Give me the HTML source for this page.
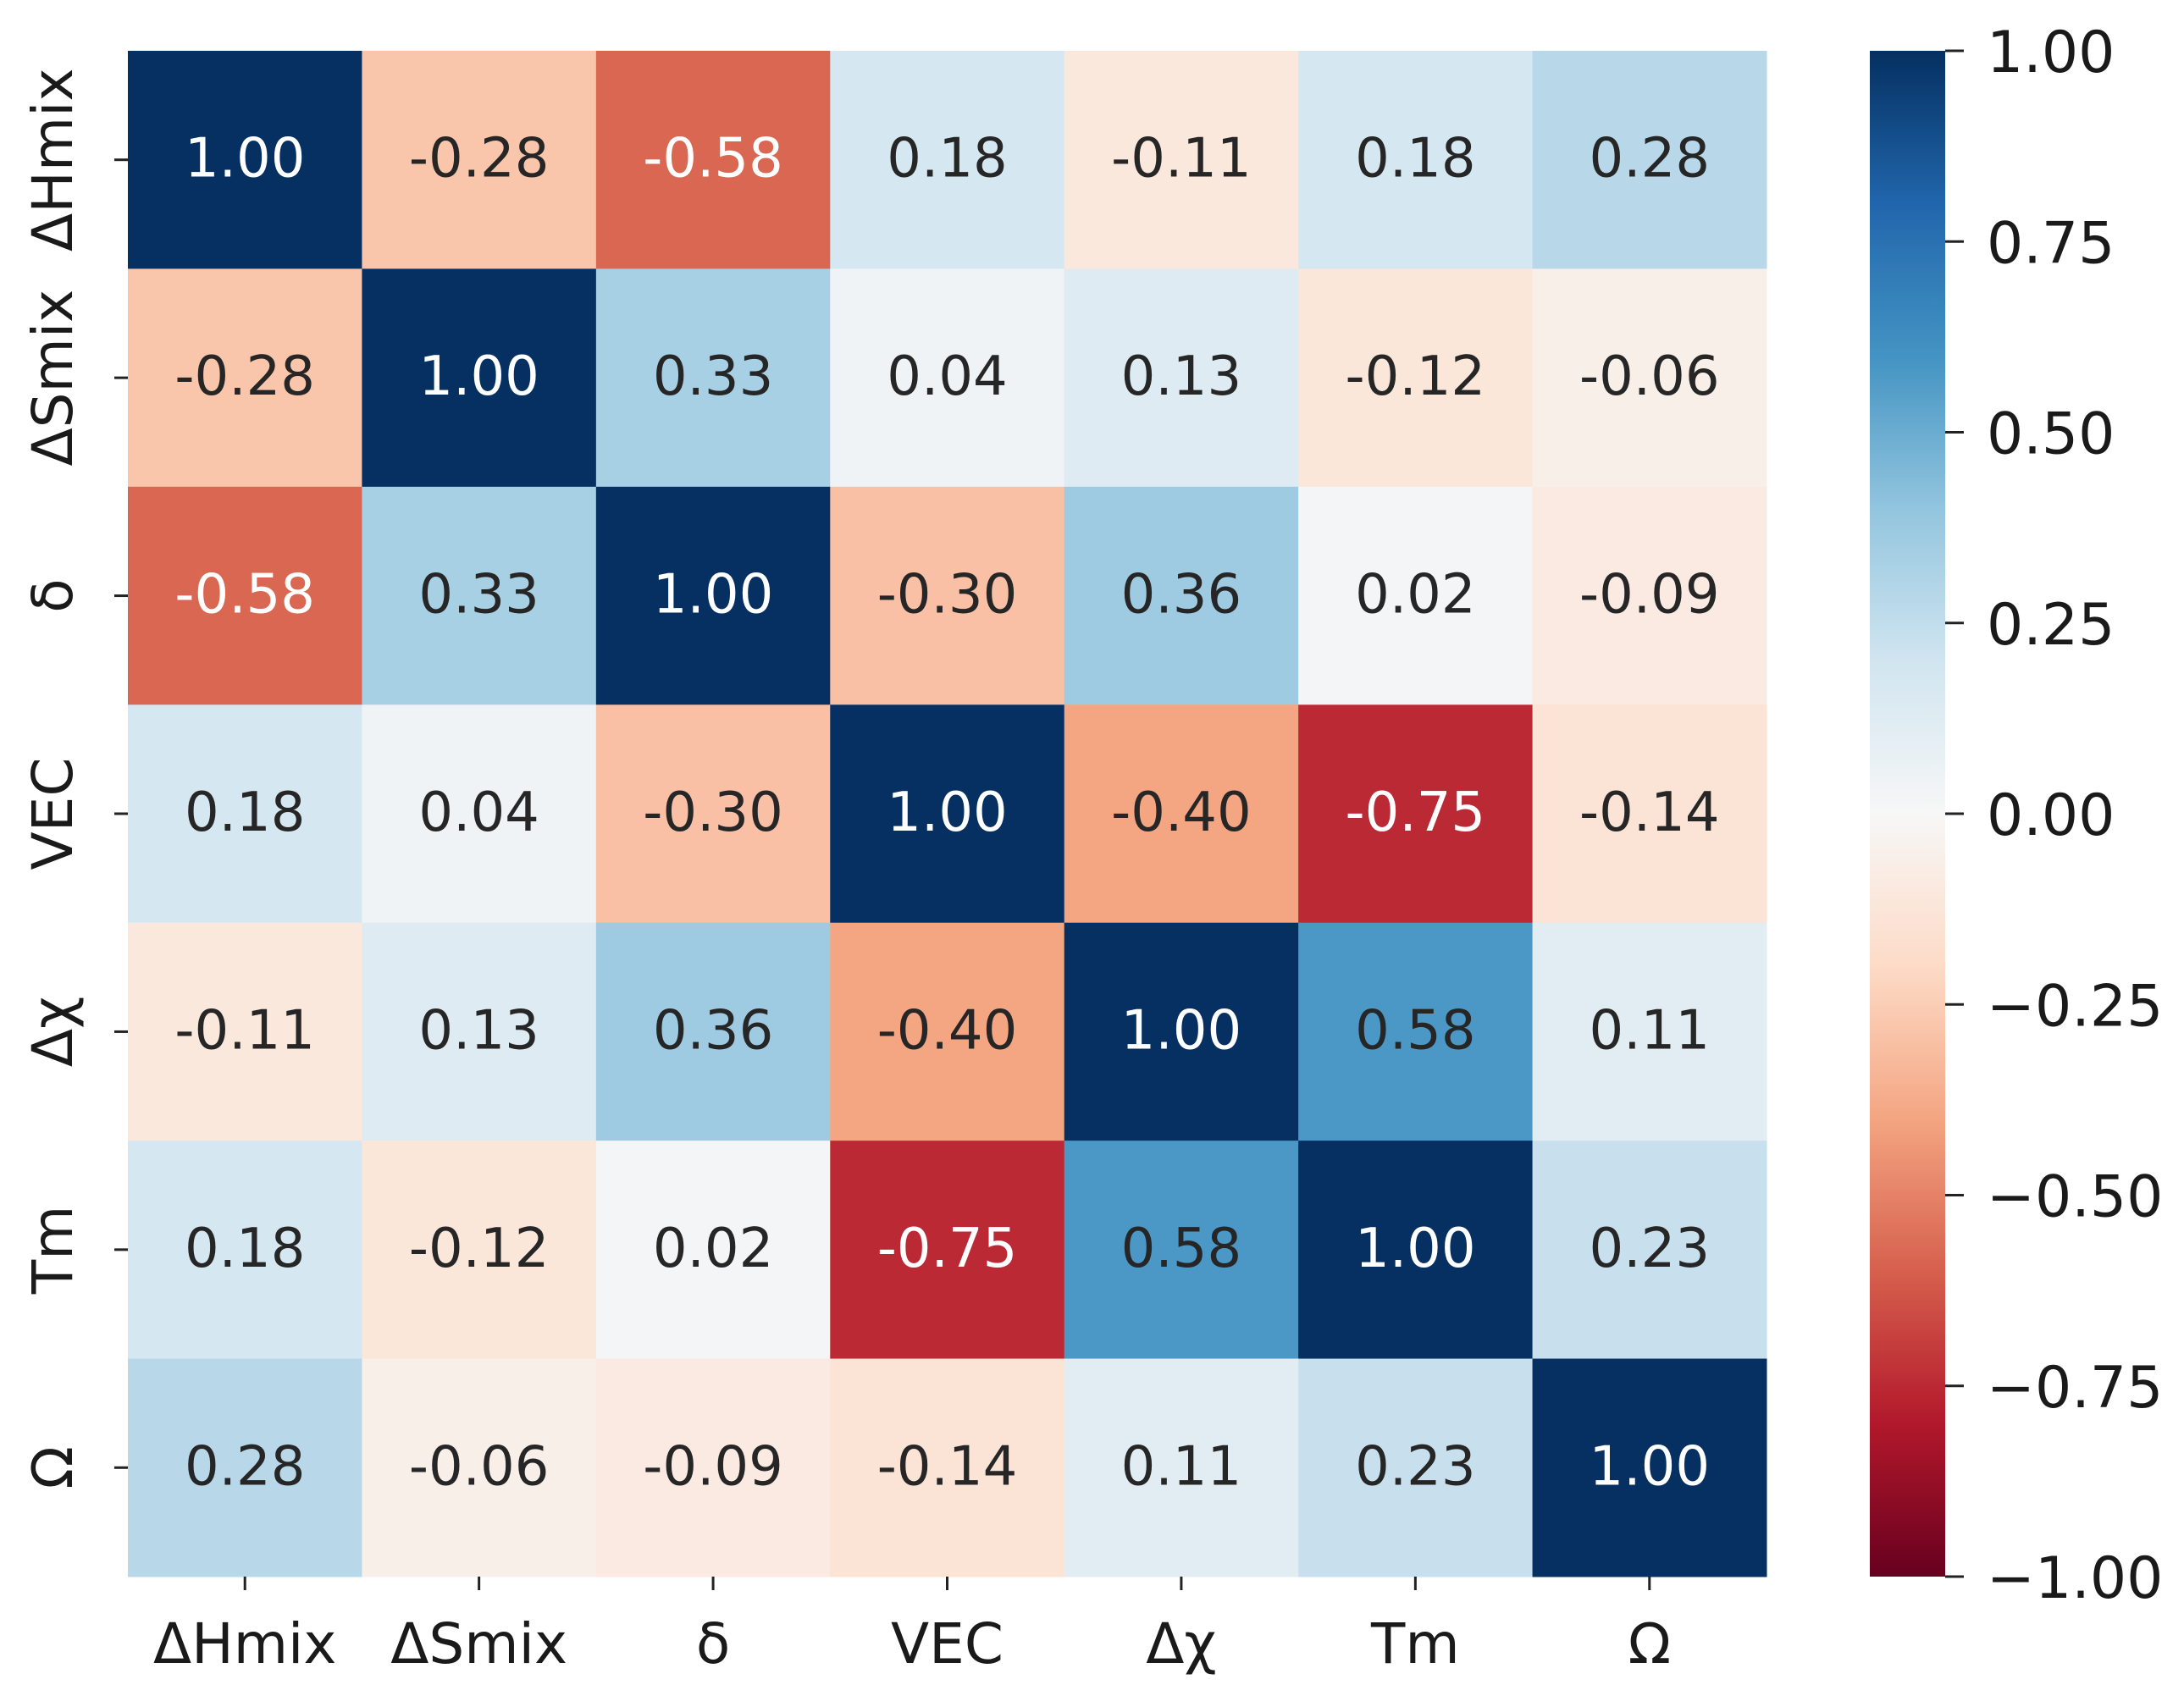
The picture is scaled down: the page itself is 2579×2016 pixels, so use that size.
<!DOCTYPE html>
<html><head><meta charset="utf-8"><style>
html,body{margin:0;padding:0;background:#fff;}
svg{display:block;font-family:"DejaVu Sans","Liberation Sans",sans-serif;}
</style></head><body>
<svg id="chart" width="2579" height="2016" viewBox="0 0 2579 2016" xmlns="http://www.w3.org/2000/svg">
<defs><linearGradient id="cbgrad" x1="0" y1="1" x2="0" y2="0"></linearGradient></defs>
<g id="cells"></g><g id="axes"></g><g id="cbar"></g>
</svg>
<script>
const categories = ["ΔHmix","ΔSmix","δ","VEC","Δχ","Tm","Ω"];
const row0 = [1.00,-0.28,-0.58,0.18,-0.11,0.18,0.28];
const row1 = [-0.28,1.00,0.33,0.04,0.13,-0.12,-0.06];
const row2 = [-0.58,0.33,1.00,-0.30,0.36,0.02,-0.09];
const row3 = [0.18,0.04,-0.30,1.00,-0.40,-0.75,-0.14];
const row4 = [-0.11,0.13,0.36,-0.40,1.00,0.58,0.11];
const row5 = [0.18,-0.12,0.02,-0.75,0.58,1.00,0.23];
const row6 = [0.28,-0.06,-0.09,-0.14,0.11,0.23,1.00];
const matrix = [row0,row1,row2,row3,row4,row5,row6];
const cbTicks = [1.00,0.75,0.50,0.25,0.00,-0.25,-0.50,-0.75,-1.00];
const cbTickLabels = ["1.00","0.75","0.50","0.25","0.00","\u22120.25","\u22120.50","\u22120.75","\u22121.00"];

const L=151,R=2086,T=60,B=1862;
const CBL=2208,CBR=2297;
const n=categories.length, cw=(R-L)/n, ch=(B-T)/n;
const xPos=i=>L+i*cw, yPos=i=>T+i*ch;
const cbY=v=>T+(1-v)/2*(B-T);
const NS="http://www.w3.org/2000/svg";
const stops=["#67001f","#b2182b","#d6604d","#f4a582","#fddbc7","#f7f7f7","#d1e5f0","#92c5de","#4393c3","#2166ac","#053061"];
function hex(h){return [1,3,5].map(k=>parseInt(h.substr(k,2),16));}
function cmap(v){let t=(v+1)/2*10;let i=Math.min(9,Math.max(0,Math.floor(t)));let f=t-i;
 const a=hex(stops[i]),b=hex(stops[i+1]);const c=a.map((x,k)=>Math.round(x+(b[k]-x)*f));return c;}
function mk(tag,attrs,parent){const e=document.createElementNS(NS,tag);for(const k in attrs)e.setAttribute(k,attrs[k]);parent.appendChild(e);return e;}
const cells=document.getElementById('cells'),axes=document.getElementById('axes'),cbar=document.getElementById('cbar');
matrix.forEach((row,r)=>row.forEach((v,c)=>{
 const col=cmap(v);
 const rect=mk('rect',{x:xPos(c),y:yPos(r),width:cw+0.5,height:ch+0.5,fill:`rgb(${col})`},cells);
 
 
 const lum=0.2126*col[0]+0.7152*col[1]+0.0722*col[2];
 const tx=mk('text',{x:xPos(c)+cw/2,y:yPos(r)+ch/2+20,'text-anchor':'middle','font-size':64,fill:lum<128?'#ffffff':'#262626'},cells);
 tx.textContent=v.toFixed(2);
 
 
}));
categories.forEach((name,i)=>{
 const cx=xPos(i)+cw/2, cy=yPos(i)+ch/2;
 mk('line',{x1:cx,y1:B,x2:cx,y2:B+16,stroke:'#222','stroke-width':3},axes);
 const xl=mk('text',{x:cx,y:B+102,'text-anchor':'middle','font-size':66,fill:'#1a1a1a'},axes);
 xl.textContent=name;
 
 
 mk('line',{x1:L-16,y1:cy,x2:L,y2:cy,stroke:'#222','stroke-width':3},axes);
 const yl=mk('text',{x:0,y:0,'text-anchor':'middle','font-size':66,fill:'#1a1a1a',transform:`translate(85,${cy}) rotate(-90)`},axes);
 yl.textContent=name;
 
 
});
const g=document.getElementById('cbgrad');
stops.forEach((s,i)=>mk('stop',{offset:(i/10),'stop-color':s},g));
const cb=mk('rect',{x:CBL,y:T,width:CBR-CBL,height:B-T,fill:'url(#cbgrad)'},cbar);


cbTicks.forEach((v,i)=>{
 const y=cbY(v);
 mk('line',{x1:CBR,y1:y,x2:CBR+22,y2:y,stroke:'#222','stroke-width':3},cbar);
 const t=mk('text',{x:2346,y:y+25,'font-size':68,fill:'#1a1a1a'},cbar);
 t.textContent=cbTickLabels[i];
 
 
});
</script>
</body></html>
